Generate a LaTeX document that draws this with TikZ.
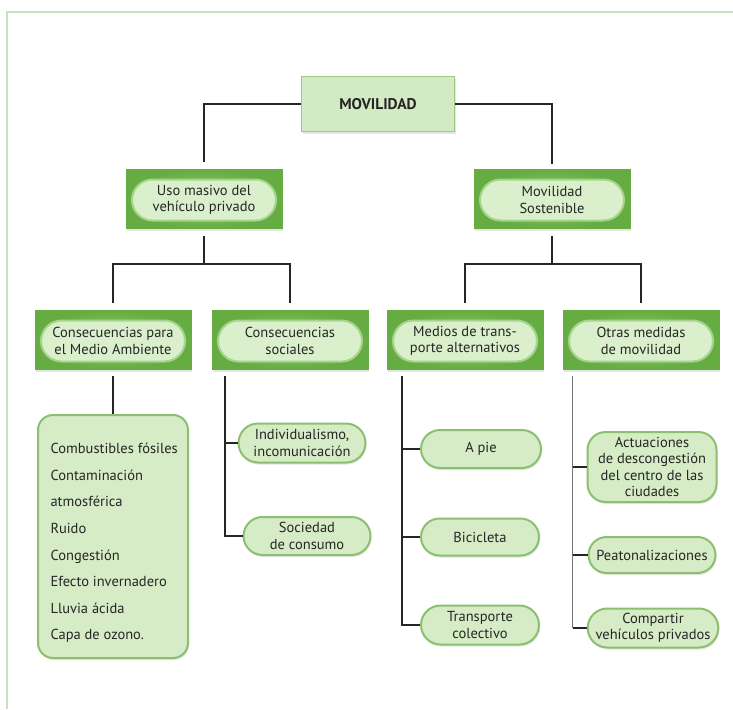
\documentclass[tikz,border=0pt]{standalone}
\usepackage{fontspec}
\setmainfont{PT Sans}
\usetikzlibrary{shapes.misc,shadows}
\definecolor{framec}{HTML}{C8E2B8}
\definecolor{mvfill}{HTML}{D3EBC5}
\definecolor{mvborder}{HTML}{9DC985}
\definecolor{outin}{HTML}{92CE70}
\definecolor{outout}{HTML}{65AD42}
\definecolor{pillfill}{HTML}{DAEFCC}
\definecolor{pillborder}{HTML}{A6D48B}
\definecolor{leaffill}{HTML}{D5ECC6}
\definecolor{leafborder}{HTML}{8CC070}
\begin{document}
\begin{tikzpicture}[x=1pt,y=-1pt,
  lbl/.style={font=\fontsize{14.5}{16.5}\selectfont, align=center, text=black!85},
  topbox/.style={rectangle, draw=mvborder, fill=mvfill, line width=1.5pt,
    minimum width=153pt, minimum height=55pt, text=black!85,
    font=\bfseries\fontsize{15.5}{17}\selectfont,
    drop shadow={opacity=0.2, shadow xshift=1pt, shadow yshift=-2pt}},
  outerbox/.style={rectangle, inner color=outin, outer color=outout, draw=outout,
    line width=0.8pt, minimum width=156pt, minimum height=59pt,
    drop shadow={opacity=0.2, shadow xshift=1pt, shadow yshift=-2pt}},
  pill/.style={rounded rectangle, draw=pillborder, fill=pillfill, line width=2pt,
    minimum width=146pt, minimum height=41pt, inner sep=1pt, lbl},
  leaf/.style={rounded rectangle, draw=leafborder, fill=leaffill, line width=2pt,
    inner sep=1pt, lbl,
    drop shadow={opacity=0.2, shadow xshift=1pt, shadow yshift=-2pt}},
  conn/.style={line width=1.8pt, black!85},
  lconn/.style={line width=1pt, black!55}]
\useasboundingbox (0,0) rectangle (733,709);
\fill[white] (0,0) rectangle (733,709);
\draw[framec, line width=2pt] (7,709) -- (7,12) -- (733,12);

% top
\node[topbox] (mov) at (378,104) {MOVILIDAD};

% level 1
\node[outerbox] (uso) at (204,199) {};
\node[pill] (usoP) at (204,200) {Uso masivo del\\vehículo privado};
\node[outerbox] (ms) at (552,199) {};
\node[pill] (msP) at (552,200) {Movilidad\\Sostenible};

% level 2
\node[outerbox] (cma) at (113,340) {};
\node[pill] (cmaP) at (113,341) {Consecuencias para\\el Medio Ambiente};
\node[outerbox] (cs) at (290,340) {};
\node[pill] (csP) at (290,341) {Consecuencias\\sociales};
\node[outerbox] (mta) at (465,340) {};
\node[pill] (mtaP) at (465,341) {Medios de trans-\\porte alternativos};
\node[outerbox] (omm) at (641,340) {};
\node[pill] (ommP) at (641,341) {Otras medidas\\de movilidad};

% list box
\node[rectangle, rounded corners=15pt, draw=leafborder, fill=leaffill, line width=2pt,
  minimum width=150pt, minimum height=243pt,
  drop shadow={opacity=0.2, shadow xshift=1pt, shadow yshift=-2pt}] (lst) at (113,536.5) {};
\node[font=\fontsize{14.5}{26.6}\selectfont, align=left, text=black!85, anchor=west]
  (lstT) at (47,543) {Combustibles fósiles\\Contaminación\\atmosférica\\Ruido\\Congestión\\Efecto invernadero\\Lluvia ácida\\Capa de ozono.};

% leaves
\node[leaf, minimum width=129pt, minimum height=39pt] (ind) at (302,443) {Individualismo,\\incomunicación};
\node[leaf, minimum width=129pt, minimum height=38pt] (soc) at (307,536) {Sociedad\\de consumo};
\node[leaf, minimum width=122pt, minimum height=38pt] (apie) at (481,449) {A pie};
\node[leaf, minimum width=120pt, minimum height=37pt] (bici) at (480,537) {Bicicleta};
\node[leaf, minimum width=120pt, minimum height=39pt] (tc) at (480,625) {Transporte\\colectivo};
\node[rectangle, rounded corners=18pt, draw=leafborder, fill=leaffill, line width=2pt,
  minimum width=129pt, minimum height=70pt, inner sep=1pt, lbl,
  drop shadow={opacity=0.2, shadow xshift=1pt, shadow yshift=-2pt}] (act) at (652,467)
  {Actuaciones\\de descongestión\\del centro de las\\ciudades};
\node[leaf, minimum width=129pt, minimum height=36pt] (peat) at (652,555) {Peatonalizaciones};
\node[leaf, minimum width=129pt, minimum height=39pt] (comp) at (653,628) {Compartir\\vehículos privados};

% connectors top
\draw[conn, shorten >=7pt] (mov.west) -| (uso.north);
\draw[conn, shorten >=5pt] (mov.east) -| (ms.north);

\coordinate (jl) at (204,264);
\coordinate (jr) at (554,264);
\draw[conn, shorten <=7pt] (uso.south) -- (uso.south |- jl);
\draw[conn, shorten <=7pt, shorten >=7pt] (cma.north) -- (cma.north |- jl) -- (cs.north |- jl) -- (cs.north);
\draw[conn, shorten <=7pt] (ms.south) -- (ms.south |- jr);
\draw[conn, shorten <=7pt, shorten >=7pt] (mta.north) -- (mta.north |- jr) -- (omm.north |- jr) -- (omm.north);

% level 2 down
\draw[conn, shorten <=6pt] (cma.south) -- (lst.north);

\coordinate (csx) at ([xshift=13pt]cs.south west);
\draw[conn, shorten <=6pt] (csx) |- (soc.west);
\draw[conn] (csx |- ind.west) -- (ind.west);

\coordinate (mtx) at ([xshift=15pt]mta.south west);
\draw[conn, shorten <=6pt] (mtx) |- (tc.west);
\draw[conn] (mtx |- apie.west) -- (apie.west);
\draw[conn] (mtx |- bici.west) -- (bici.west);

\coordinate (omx) at ([xshift=10pt]omm.south west);
\draw[lconn, shorten <=6pt] (omx) -- (omx |- comp.west);
\draw[conn] (omx |- act.west) -- (act.west);
\draw[conn] (omx |- peat.west) -- (peat.west);
\draw[conn] (omx |- comp.west) -- (comp.west);
\end{tikzpicture}
\end{document}
